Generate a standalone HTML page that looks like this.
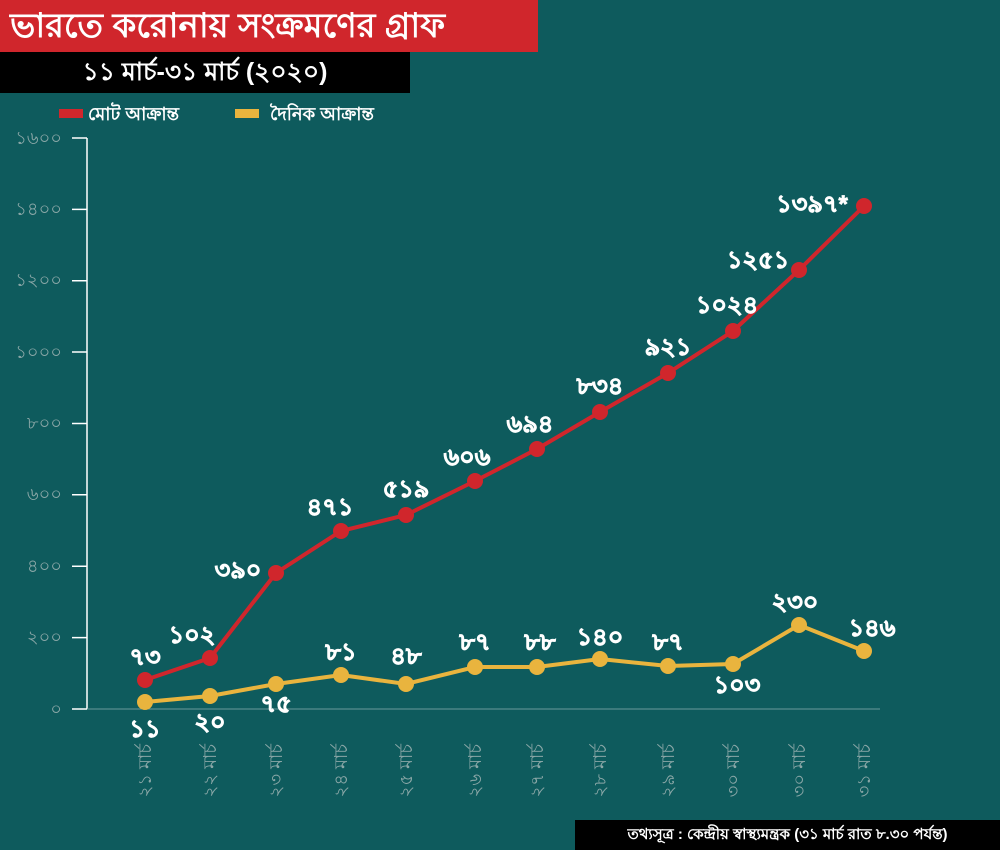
<!DOCTYPE html>
<html><head><meta charset="utf-8"><style>
body{margin:0;width:1000px;height:850px;background:#0e5b5d;overflow:hidden;position:relative;font-family:"Liberation Sans","Noto Sans CJK SC",sans-serif}
.t{position:absolute;background:#d0262c;color:#fff;left:0;top:0;width:538px;height:52px;font-size:34px;font-weight:bold;line-height:52px;padding-left:10px;box-sizing:border-box}
.s{position:absolute;background:#000;color:#fff;left:0;top:52px;width:410px;height:41px;font-size:25px;font-weight:bold;line-height:41px;text-align:center}
.src{position:absolute;background:#000;color:#fff;left:575px;top:820px;width:425px;height:30px;font-size:15px;line-height:30px;text-align:center;font-weight:bold}
</style></head><body>
<div class="t">ভারতে করোনায় সংক্রমণের গ্রাফ</div>
<div class="s">১১ মার্চ-৩১ মার্চ (২০২০)</div>
<svg width="1000" height="850" style="position:absolute;left:0;top:0">
<rect x="59" y="109" width="24" height="9" fill="#d0262c"/>
<text x="88" y="120" fill="#fff" font-size="18" font-weight="bold">মোট আক্রান্ত</text>
<rect x="235" y="109" width="24" height="9" fill="#e9b43e"/>
<text x="270" y="120" fill="#fff" font-size="18" font-weight="bold">দৈনিক আক্রান্ত</text>
<g stroke="#fff" stroke-width="1.5" fill="none">
<path d="M87 138V709M72 138H87M72 209.4H87M72 280.7H87M72 352H87M72 423.5H87M72 494.8H87M72 566.2H87M72 637.6H87M72 709H87"/>
</g>
<line x1="87" y1="709" x2="880" y2="709" stroke="#6a9a9a" stroke-width="1"/>
<g fill="#8aa7a7" font-size="18" text-anchor="end">
<text x="62" y="144">১৬০০</text><text x="62" y="215">১৪০০</text><text x="62" y="286">১২০০</text><text x="62" y="358">১০০০</text><text x="62" y="429">৮০০</text><text x="62" y="500">৬০০</text><text x="62" y="572">৪০০</text><text x="62" y="643">২০০</text><text x="62" y="715">০</text>
</g>
<polyline fill="none" stroke="#d0262c" stroke-width="4" points="145,680 210,658 276,573 341,531 406,515 475,481 537,449 600,412 668,373 733,331 799,270 864,206"/>
<g fill="#d0262c"><circle cx="145" cy="680" r="8"/><circle cx="210" cy="658" r="8"/><circle cx="276" cy="573" r="8"/><circle cx="341" cy="531" r="8"/><circle cx="406" cy="515" r="8"/><circle cx="475" cy="481" r="8"/><circle cx="537" cy="449" r="8"/><circle cx="600" cy="412" r="8"/><circle cx="668" cy="373" r="8"/><circle cx="733" cy="331" r="8"/><circle cx="799" cy="270" r="8"/><circle cx="864" cy="206" r="8"/></g>
<polyline fill="none" stroke="#e9b43e" stroke-width="4" points="145,702 210,696 276,684 341,675 406,684 475,667 537,667 600,659 668,666 733,664 799,625 864,651"/>
<g fill="#e9b43e"><circle cx="145" cy="702" r="8"/><circle cx="210" cy="696" r="8"/><circle cx="276" cy="684" r="8"/><circle cx="341" cy="675" r="8"/><circle cx="406" cy="684" r="8"/><circle cx="475" cy="667" r="8"/><circle cx="537" cy="667" r="8"/><circle cx="600" cy="659" r="8"/><circle cx="668" cy="666" r="8"/><circle cx="733" cy="664" r="8"/><circle cx="799" cy="625" r="8"/><circle cx="864" cy="651" r="8"/></g>
<g fill="#fff" font-size="24" font-weight="bold" text-anchor="middle" stroke="#fff" stroke-width="0.8">
<text x="145" y="665">৭৩</text><text x="192" y="643">১০২</text><text x="238" y="578">৩৯০</text><text x="330" y="515">৪৭১</text><text x="406" y="497">৫১৯</text><text x="467" y="465">৬০৬</text><text x="530" y="432">৬৯৪</text><text x="600" y="394">৮৩৪</text><text x="668" y="355">৯২১</text><text x="727" y="313">১০২৪</text><text x="758" y="268">১২৫১</text><text x="812" y="212">১৩৯৭*</text>
<text x="145" y="737">১১</text><text x="210" y="730">২০</text><text x="276" y="712">৭৫</text><text x="341" y="660">৮১</text><text x="406" y="664">৪৮</text><text x="475" y="650">৮৭</text><text x="540" y="650">৮৮</text><text x="600" y="645">১৪০</text><text x="668" y="650">৮৭</text><text x="737" y="693">১০৩</text><text x="795" y="610">২৩০</text><text x="872" y="636">১৪৬</text>
</g>
<g fill="#8aa7a7" font-size="18" text-anchor="end">
<text transform="translate(151,744) rotate(-90)">২১ মার্চ</text>
<text transform="translate(216,744) rotate(-90)">২২ মার্চ</text>
<text transform="translate(282,744) rotate(-90)">২৩ মার্চ</text>
<text transform="translate(347,744) rotate(-90)">২৪ মার্চ</text>
<text transform="translate(412,744) rotate(-90)">২৫ মার্চ</text>
<text transform="translate(481,744) rotate(-90)">২৬ মার্চ</text>
<text transform="translate(543,744) rotate(-90)">২৭ মার্চ</text>
<text transform="translate(606,744) rotate(-90)">২৮ মার্চ</text>
<text transform="translate(674,744) rotate(-90)">২৯ মার্চ</text>
<text transform="translate(739,744) rotate(-90)">৩০ মার্চ</text>
<text transform="translate(805,744) rotate(-90)">৩০ মার্চ</text>
<text transform="translate(870,744) rotate(-90)">৩১ মার্চ</text>
</g>
</svg>
<div class="src">তথ্যসূত্র : কেন্দ্রীয় স্বাস্থ্যমন্ত্রক (৩১ মার্চ রাত ৮.৩০ পর্যন্ত)</div>
</body></html>
